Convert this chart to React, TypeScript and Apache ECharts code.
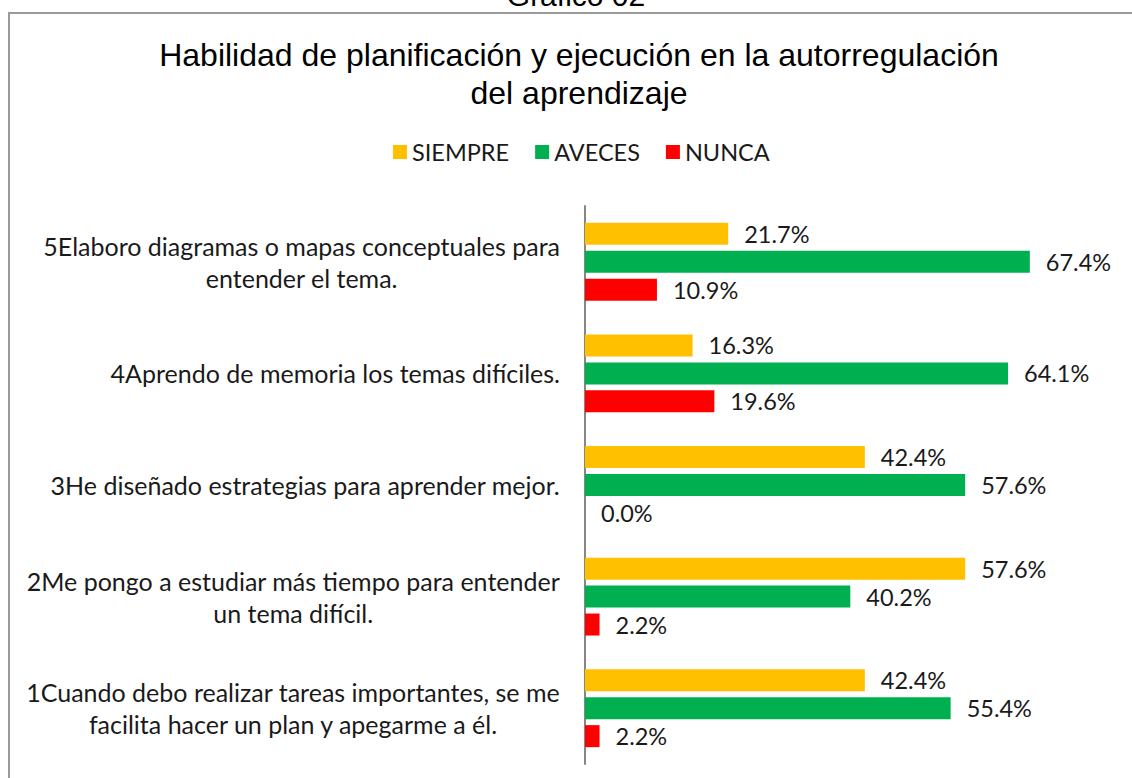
import React, { useEffect, useRef } from "react";
import * as echarts from "echarts";

const categories = [
  "5Elaboro diagramas o mapas conceptuales para\nentender el tema.",
  "4Aprendo de memoria los temas difíciles.",
  "3He diseñado estrategias para aprender mejor.",
  "2Me pongo a estudiar más tiempo para entender\nun tema difícil.",
  "1Cuando debo realizar tareas importantes, se me\nfacilita hacer un plan y apegarme a él.",
];
const siempre = [21.7, 16.3, 42.4, 57.6, 42.4];
const aveces = [67.4, 64.1, 57.6, 40.2, 55.4];
const nunca = [10.9, 19.6, 0.0, 2.2, 2.2];
const seriesNames = ["SIEMPRE", "AVECES", "NUNCA"];
const colors = ["#FFC000", "#00B050", "#FF0000"];

const titleText = "Habilidad de planificación y ejecución en la autorregulación\ndel aprendizaje";
const topText = "Gráfico 02";

const FONT = "Lato";
const TEXT = "#1a1a1a";

export default function App() {
  const ref = useRef<HTMLDivElement>(null);
  useEffect(() => {
    if (!ref.current) return;
    const chart = echarts.init(ref.current, undefined, { renderer: "svg" });
    const values = [siempre, aveces, nunca];
    const option = {
      animation: false,
      backgroundColor: "#ffffff",
      title: {
        text: titleText,
        left: 574,
        top: 31,
        textAlign: "center",
        textStyle: {
          fontFamily: "Liberation Sans",
          fontSize: 32,
          fontWeight: "normal",
          color: "#000000",
          lineHeight: 38,
        },
      },
      legend: {
        data: seriesNames,
        left: 393,
        top: 140,
        padding: 0,
        itemWidth: 14,
        itemHeight: 14,
        itemGap: 26,
        icon: "rect",
        textStyle: { fontFamily: FONT, fontSize: 23.5, color: TEXT },
      },
      graphic: [
        {
          type: "rect",
          shape: { x: 9, y: 13, width: 1150, height: 800 },
          style: { fill: "none", stroke: "#9a9a9a", lineWidth: 2 },
          silent: true,
        },
        {
          type: "text",
          x: 576,
          y: 10,
          style: {
            text: topText,
            fontFamily: "Liberation Sans",
            fontSize: 30,
            fill: "#000000",
            textAlign: "center",
            textVerticalAlign: "bottom",
          },
        },
      ],
      grid: { left: 585, top: 206, right: 19, bottom: 14, containLabel: false },
      xAxis: {
        type: "value",
        min: 0,
        max: 80,
        axisLine: { show: false },
        axisTick: { show: false },
        axisLabel: { show: false },
        splitLine: { show: false },
      },
      yAxis: {
        type: "category",
        inverse: true,
        data: categories,
        axisTick: { show: false },
        axisLine: { lineStyle: { color: "#868686", width: 2 } },
        axisLabel: {
          margin: 25,
          align: "right",
          formatter: (v: string) =>
            v
              .split("\n")
              .map((l) => `{c|${l}}`)
              .join("\n"),
          rich: {
            c: {
              align: "center",
              fontFamily: FONT,
              fontSize: 25,
              color: TEXT,
              lineHeight: 32,
            },
          },
        },
      },
      series: seriesNames.map((name, i) => ({
        name,
        type: "bar",
        data: values[i],
        barWidth: 22,
        barGap: "27%",
        itemStyle: { color: colors[i] },
        label: {
          show: true,
          position: "right",
          distance: 16,
          fontFamily: FONT,
          fontSize: 23.5,
          color: TEXT,
          formatter: (p: any) => `${Number(p.value).toFixed(1)}%`,
        },
      })),
    };
    chart.setOption(option as any);
    return () => chart.dispose();
  }, []);
  return (
    <div
      ref={ref}
      style={{ position: "fixed", left: 0, top: 0, width: 1132, height: 778 }}
    />
  );
}
